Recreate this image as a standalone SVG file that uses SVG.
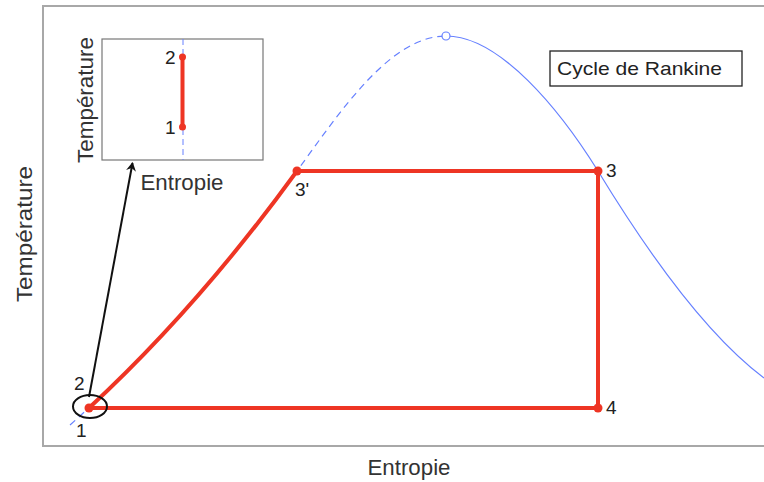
<svg xmlns="http://www.w3.org/2000/svg" width="764" height="482" viewBox="0 0 764 482">
<style>
text{font-family:"Liberation Sans",Arial,sans-serif;fill:#222}
.ax{font-size:22px;fill:#333}
.lbl{font-size:19px}
.red{stroke:#ee3524;stroke-width:4;fill:none;stroke-linecap:round;stroke-linejoin:round}
.dot{fill:#ee3524}
.blue{stroke:#6680ff;stroke-width:1.2;fill:none}
</style>
<defs>
<marker id="ah" markerWidth="10" markerHeight="10" refX="8" refY="5" orient="auto" markerUnits="userSpaceOnUse">
<path d="M0,0 L9,5 L0,10 L3,5 Z" fill="#111"/>
</marker>
</defs>
<rect x="0" y="0" width="764" height="482" fill="#fff"/>
<g id="frame">
<rect x="43" y="6" width="800" height="440" fill="none" stroke="#a8a8a8" stroke-width="2"/>
<text class="ax" x="409" y="475" text-anchor="middle" textLength="83" lengthAdjust="spacingAndGlyphs">Entropie</text>
<text class="ax" transform="translate(32,234) rotate(-90)" text-anchor="middle" textLength="136" lengthAdjust="spacingAndGlyphs">Température</text>
</g>
<g id="dome">
<path class="blue" stroke-dasharray="7,5" d="M70,425 Q190,318 297,171 C340,112 390,36 446,36"/>
<path class="blue" d="M446,36 C500,36 560,110 598,171 C640,240 700,330 764,378"/>
<circle cx="446" cy="36" r="4" fill="#fff" stroke="#6680ff" stroke-width="1.2"/>
</g>
<g id="cycle">
<path class="red" d="M89,408 Q199,306 297,171 L598,171 L598,408 Z"/>
<circle class="dot" cx="89" cy="408" r="4.5"/>
<circle class="dot" cx="297" cy="171" r="4.5"/>
<circle class="dot" cx="598" cy="171" r="4.5"/>
<circle class="dot" cx="598" cy="408" r="4.5"/>
</g>
<g id="labels">
<text class="lbl" x="74" y="390">2</text>
<text class="lbl" x="76" y="437">1</text>
<text class="lbl" x="295" y="196">3'</text>
<text class="lbl" x="606" y="177">3</text>
<text class="lbl" x="606" y="414">4</text>
</g>
<g id="legend">
<rect x="550" y="51" width="192" height="35" fill="#fff" stroke="#222" stroke-width="1.3"/>
<text x="557" y="75" font-size="19" textLength="165" lengthAdjust="spacingAndGlyphs">Cycle de Rankine</text>
</g>
<g id="connectors">
<ellipse cx="90" cy="406.5" rx="17" ry="11.5" fill="none" stroke="#111" stroke-width="2"/>
<line x1="89" y1="397" x2="132.5" y2="163" stroke="#111" stroke-width="2" marker-end="url(#ah)"/>
</g>
<g id="inset">
<rect x="102" y="39" width="161" height="121" fill="#fff" stroke="#777" stroke-width="1.2"/>
<line x1="183" y1="39" x2="183" y2="160" stroke="#6680ff" stroke-width="1" stroke-dasharray="6,4"/>
<line x1="182.5" y1="57" x2="182.5" y2="127" class="red"/>
<circle class="dot" cx="182.5" cy="57" r="3.5"/>
<circle class="dot" cx="182.5" cy="127" r="3.5"/>
<text class="lbl" x="165" y="64">2</text>
<text class="lbl" x="165" y="134">1</text>
<text class="ax" x="182" y="190" text-anchor="middle" textLength="83" lengthAdjust="spacingAndGlyphs">Entropie</text>
<text class="ax" transform="translate(93,100) rotate(-90)" text-anchor="middle" textLength="126" lengthAdjust="spacingAndGlyphs">Température</text>
</g>
</svg>
